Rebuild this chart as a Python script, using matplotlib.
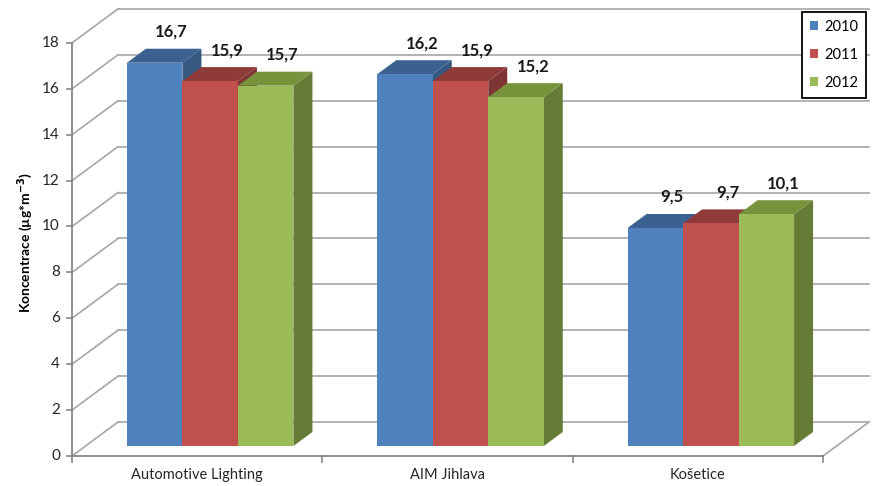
import numpy as np
import matplotlib.pyplot as plt
from matplotlib.patches import Polygon, Patch

# data
stanice = ["Automotive Lighting", "AIM Jihlava", "Košetice"]
roky = ["2010", "2011", "2012"]
hodnoty = {
    "2010": [16.7, 16.2, 9.5],
    "2011": [15.9, 15.9, 9.7],
    "2012": [15.7, 15.2, 10.1],
}
y_ticks = [0, 2, 4, 6, 8, 10, 12, 14, 16, 18]

# barvy: celo, vrch, bok
barvy = {
    "2010": ("#4F81BD", "#3B6191", "#36577F"),
    "2011": ("#C0504D", "#8E3B39", "#7E3432"),
    "2012": ("#9BBB59", "#77933C", "#647C36"),
}

plt.rcParams["font.family"] = ["Lato", "DejaVu Sans"]

W, H = 875, 486
fig = plt.figure(figsize=(W / 100, H / 100), dpi=100)
ax = fig.add_axes([0, 0, 1, 1])
ax.axis("off")

# mapovani: 1 kategorie = 250.33 px, 1 jednotka = 22.95 px
px_x = 250.33
px_y = 22.95
x0_px = 72
y0_px = 486 - 456
ax.set_xlim(-x0_px / px_x, (W - x0_px) / px_x)
ax.set_ylim(-y0_px / px_y, (H - y0_px) / px_y)

# hloubka steny, pozice sloupcu, hloubka sloupcu
wdx, wdy = 46 / px_x, 34 / px_y
bdx, bdy = 13 / px_x, 10 / px_y
ddx, ddy = 19 / px_x, 14 / px_y
n = len(stanice)
grid_c = "#A6A6A6"
axis_c = "#868686"

# mrizka na zadni stene a bocni stene
for v in y_ticks:
    ax.plot([wdx, n + wdx], [v + wdy, v + wdy], color=grid_c, lw=1.2, zorder=1)
    ax.plot([0, wdx], [v, v + wdy], color=grid_c, lw=1.2, zorder=1)

# podlaha
ax.plot([n, n + wdx], [0, wdy], color=grid_c, lw=1.2, zorder=1)
ax.plot([0, n], [0, 0], color=axis_c, lw=1.3, zorder=5)
ax.plot([0, 0], [0, y_ticks[-1]], color=axis_c, lw=1.3, zorder=5)

# ticky
tl = 5 / px_x
for v in y_ticks:
    ax.plot([-tl, 0], [v, v], color=axis_c, lw=1.2, zorder=5)
    ax.text(-12 / px_x, v, str(v), ha="right", va="center", fontsize=11,
            color="#262626")
for i in range(n + 1):
    ax.plot([i, i], [0, -6 / px_y], color=axis_c, lw=1.2, zorder=5)
for i, s in enumerate(stanice):
    ax.text(i + 0.5, -19 / px_y, s, ha="center", va="center", fontsize=10.5,
            color="#262626")

# sloupce
bw = 55.5 / px_x
for i in range(n):
    left0 = i + (1 - 3 * bw) / 2 + bdx
    for j, r in enumerate(roky):
        v = hodnoty[r][i]
        c_front, c_top, c_side = barvy[r]
        x1 = left0 + j * bw
        x2 = x1 + bw
        yb = bdy
        yt = v + bdy
        z = 10 + i * 3 + j
        front = Polygon([(x1, yb), (x2, yb), (x2, yt), (x1, yt)],
                        closed=True, fc=c_front, ec="none", zorder=z)
        top = Polygon([(x1, yt), (x2, yt), (x2 + ddx, yt + ddy), (x1 + ddx, yt + ddy)],
                      closed=True, fc=c_top, ec="none", zorder=z)
        side = Polygon([(x2, yb), (x2 + ddx, yb + ddy), (x2 + ddx, yt + ddy), (x2, yt)],
                       closed=True, fc=c_side, ec="none", zorder=z)
        ax.add_patch(side)
        ax.add_patch(top)
        ax.add_patch(front)
        ax.text(x1 + bw / 2 + ddx - 2 / px_x, yt + ddy + 17 / px_y,
                f"{v:.1f}".replace(".", ","), ha="center", va="center",
                fontsize=12, fontweight="bold", color="#1a1a1a", zorder=30)

# popisek osy y
ax.text(-47 / px_x, 9.3, "Koncentrace (µg*m$^{\\mathbf{-3}}$)", rotation=90,
        ha="center", va="center", fontsize=10, fontweight="bold")

# legenda
handles = [Patch(fc=barvy[r][0], ec="none") for r in roky]
leg = ax.legend(handles, roky, loc="upper right",
                bbox_to_anchor=(866 / W, 1 - 12 / H), bbox_transform=fig.transFigure,
                fontsize=10.5, handlelength=0.55, handleheight=0.55,
                handletextpad=0.4, labelspacing=0.95, borderpad=0.55,
                borderaxespad=0, fancybox=False, framealpha=1, edgecolor="black")
leg.get_frame().set_linewidth(1.3)
leg.set_zorder(40)

plt.savefig("out.png", dpi=100)
